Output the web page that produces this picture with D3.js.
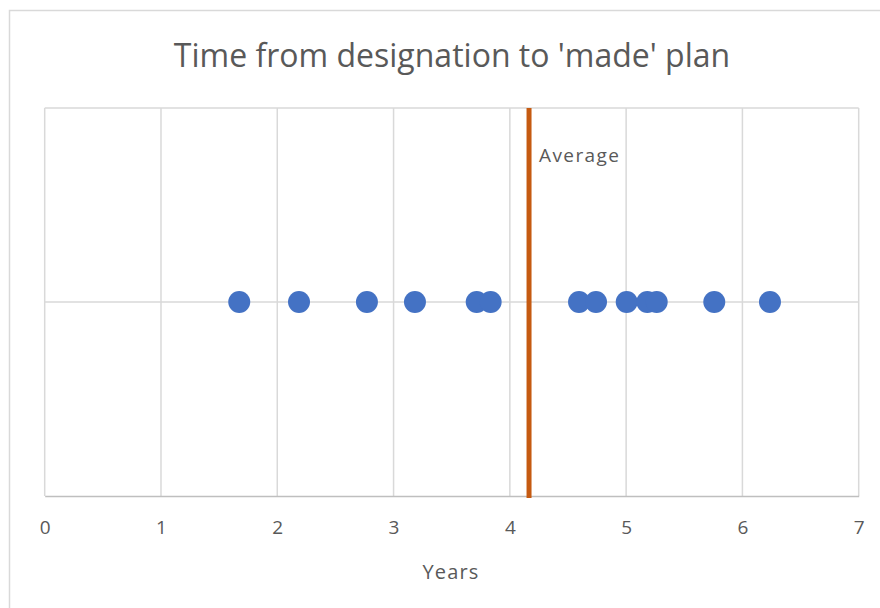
<!DOCTYPE html>
<html>
<head>
<meta charset="utf-8">
<script src="https://cdn.jsdelivr.net/npm/d3@7"></script>
<style>
  body { margin: 0; background: #fff; }
  svg text { font-family: "Open Sans", sans-serif; fill: #595959; }
</style>
</head>
<body>
<div id="chart"></div>
<script>
// data
const years = [1.673, 2.187, 2.771, 3.184, 3.715, 3.835, 4.595, 4.741, 5.005, 5.182, 5.263, 5.758, 6.237]
const yLevel = 1
const xTicks = [0, 1, 2, 3, 4, 5, 6, 7]
const yGrid = [0, 1, 2]
const average = d3.mean(years)

const svg = d3.select("#chart").append("svg").attr("width", 880).attr("height", 608)

// chart border (cropped on the right and bottom)
svg.append("rect").attr("x", 9.5).attr("y", 10.5).attr("width", 900).attr("height", 700)
  .attr("fill", "none").attr("stroke", "#d9d9d9").attr("stroke-width", 1.5)

const x = d3.scaleLinear().domain([0, 7]).range([44.7, 858.7])
const y = d3.scaleLinear().domain([0, 2]).range([496, 108])

// vertical grid
svg.append("g").selectAll("line").data(xTicks.slice(1)).enter().append("line")
  .attr("x1", d => x(d)).attr("x2", d => x(d)).attr("y1", y(2)).attr("y2", y(0))
  .attr("stroke", "#d9d9d9").attr("stroke-width", 1.5)

// horizontal grid
svg.append("g").selectAll("line").data(yGrid.slice(1)).enter().append("line")
  .attr("x1", x(0)).attr("x2", x(7)).attr("y1", d => y(d)).attr("y2", d => y(d))
  .attr("stroke", "#d9d9d9").attr("stroke-width", 1.5)

// left border line of plot
svg.append("line").attr("x1", x(0)).attr("x2", x(0)).attr("y1", y(2)).attr("y2", y(0))
  .attr("stroke", "#d9d9d9").attr("stroke-width", 1.5)

// x axis
const xAxis = svg.append("g").attr("transform", `translate(0,${y(0)})`)
  .call(d3.axisBottom(x).tickValues(xTicks).tickSize(0).tickPadding(25).tickFormat(d3.format("d")))
xAxis.select(".domain").attr("stroke", "#bfbfbf").attr("stroke-width", 1.5)
xAxis.selectAll("text").attr("font-size", 19).style("fill", "#595959").style("font-family", "Open Sans")

// points
svg.append("g").selectAll("circle").data(years).enter().append("circle")
  .attr("cx", d => x(d)).attr("cy", y(yLevel)).attr("r", 11).attr("fill", "#4472c4")

// average line
svg.append("line").attr("x1", x(average)).attr("x2", x(average)).attr("y1", y(2)).attr("y2", y(0) + 2)
  .attr("stroke", "#c55a11").attr("stroke-width", 5)

svg.append("text").attr("x", x(average) + 10).attr("y", 162).attr("font-size", 19)
  .attr("letter-spacing", 1.4).text("Average")

// title
svg.append("text").attr("x", 452).attr("y", 67).attr("text-anchor", "middle")
  .attr("font-size", 32).text("Time from designation to 'made' plan")

// axis title
svg.append("text").attr("x", 451).attr("y", 579).attr("text-anchor", "middle")
  .attr("font-size", 20).attr("letter-spacing", 1.2).text("Years")
</script>
</body>
</html>
